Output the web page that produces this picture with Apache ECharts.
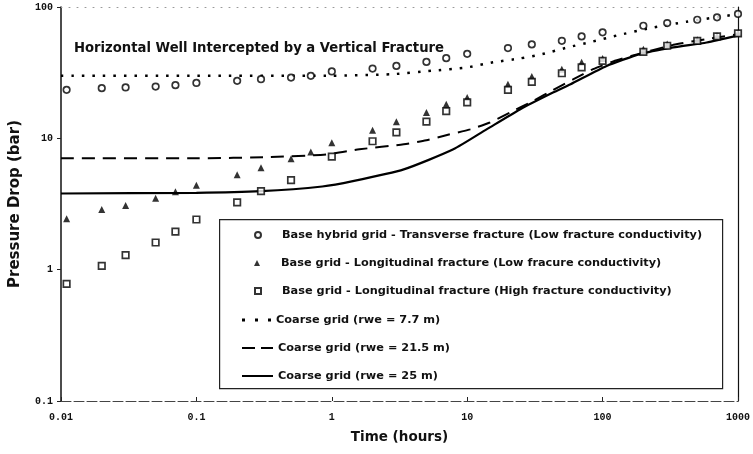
<!DOCTYPE html>
<html>
<head>
<meta charset="utf-8">
<script src="https://cdn.jsdelivr.net/npm/echarts@6/dist/echarts.min.js"></script>
<style>html,body{margin:0;padding:0;background:#fff}#c{width:753px;height:454px}</style>
</head>
<body>
<div id="c"></div>
<script>
// ---- data ----
const xTickLabels = ['0.01', '0.1', '1', '10', '100', '1000'];
const yTickLabels = ['0.1', '1', '10', '100'];

const times = [0.011, 0.02, 0.03, 0.05, 0.07, 0.1, 0.2, 0.3, 0.5, 0.7, 1, 2, 3, 5, 7, 10, 20, 30, 50, 70, 100, 200, 300, 500, 700, 1000];
const hybridTransverseLow = [23.4, 24.1, 24.4, 24.8, 25.4, 26.4, 27.4, 28.2, 29.0, 29.9, 32.3, 34.0, 35.6, 38.2, 40.8, 44.0, 48.7, 51.9, 55.3, 59.7, 64.1, 72.0, 75.5, 80.0, 83.4, 88.5];
const longitudinalLow = [2.44, 2.87, 3.08, 3.5, 3.92, 4.4, 5.29, 5.97, 7.0, 7.86, 9.27, 11.5, 13.4, 15.7, 18.2, 20.5, 25.8, 29.6, 33.6, 37.9, 40.6, 47.7, 52.2, 56.2, 60.4, 63.4];
const longitudinalHigh = [0.78, 1.07, 1.29, 1.61, 1.95, 2.41, 3.25, 3.96, 4.81, null, 7.25, 9.5, 11.1, 13.4, 16.1, 18.8, 23.4, 26.9, 31.3, 34.7, 38.9, 45.6, 50.7, 55.3, 59.7, 63.0];

const tCoarse77 = [0.01, 0.1, 1, 2.8, 5.5, 10, 15.5, 24.5, 36, 55, 81, 127, 224, 418, 775, 1000];
const vCoarse77 = [30, 30, 30, 30.8, 32.7, 34.7, 37.9, 40.6, 43.8, 49.2, 54, 60.6, 69, 77.3, 84.9, 88.5];

const tCoarse215 = [0.01, 0.1, 0.35, 0.92, 1.6, 3.4, 5, 7.1, 10.5, 14.7, 20.7, 30.8, 43, 61, 85, 120, 165, 333, 620, 1000];
const vCoarse215 = [7.05, 7.05, 7.2, 7.55, 8.25, 9.0, 9.66, 10.6, 11.7, 13.2, 15.7, 19.3, 23.3, 28.2, 33.6, 38.5, 42.5, 51.5, 57.5, 62];

const tCoarse25 = [0.01, 0.1, 0.3, 0.85, 1.43, 3.4, 7.9, 13.9, 24.5, 43, 58, 107, 189, 333, 587, 1000];
const vCoarse25 = [3.8, 3.85, 3.96, 4.3, 4.72, 5.8, 8.25, 11.7, 16.6, 22.3, 25.8, 35.6, 43.8, 49.2, 53.7, 60.5];

const names = [
  'Base hybrid grid - Transverse fracture (Low fracture conductivity)',
  'Base grid - Longitudinal fracture (Low fracure conductivity)',
  'Base grid - Longitudinal fracture (High fracture conductivity)',
  'Coarse grid (rwe = 7.7 m)',
  'Coarse grid (rwe = 21.5 m)',
  'Coarse grid (rwe = 25 m)'
];

// ---- build ----
function pairs(xs, ys) {
  const out = [];
  for (let i = 0; i < xs.length; i++) if (ys[i] != null) out.push([xs[i], ys[i]]);
  return out;
}
function logLabel(arr, base) {
  return function (v) {
    const i = Math.round(Math.log10(v)) - base;
    return arr[i] !== undefined ? arr[i] : '';
  };
}

const chart = echarts.init(document.getElementById('c'), null, { renderer: 'canvas' });
const black = '#000';
const FONT = 'DejaVu Sans';
const legendFont = { fontFamily: FONT, fontWeight: 'bold', fontSize: 11.3, color: '#111' };
const tickFont = { fontFamily: 'Liberation Mono', fontWeight: 'bold', fontSize: 10, color: '#111' };

const rowCenters = [235, 263, 291, 320, 348, 376];
const legendIcons = [
  { icon: 'circle', w: 6, h: 6 },
  { icon: 'triangle', w: 6, h: 6 },
  { icon: 'rect', w: 6, h: 6 },
  { icon: 'path://M0,0h3v3h-3zM13,0h3v3h-3zM26,0h3v3h-3z', w: 29, h: 3 },
  { icon: 'path://M0,0h13v2h-13zM19,0h12v2h-12z', w: 31, h: 2 },
  { icon: 'path://M0,0h31v2h-31z', w: 31, h: 2 }
];
const legends = names.map(function (n, i) {
  const ic = legendIcons[i];
  const isMarker = i < 3;
  return {
    data: [{ name: n, icon: ic.icon }],
    orient: 'vertical',
    left: isMarker ? 254 : 242,
    top: rowCenters[i] - 8,
    itemWidth: ic.w, itemHeight: ic.h,
    padding: 0,
    textStyle: Object.assign({}, legendFont, { padding: [0, 0, 0, isMarker ? 16 : 0], lineHeight: 16 }),
    selectedMode: false
  };
});

chart.setOption({
  animation: false,
  backgroundColor: '#fff',
  grid: { left: 61, right: 15, top: 7, bottom: 53, show: false },
  title: {
    text: 'Horizontal Well Intercepted by a Vertical Fracture',
    left: 69, top: 37,
    textStyle: { fontFamily: FONT, fontWeight: 'bold', fontSize: 13.2, color: '#111' }
  },
  graphic: [{
    type: 'rect', left: 219, top: 219, z: 0,
    shape: { width: 503, height: 169 },
    style: { fill: '#fff', stroke: '#222', lineWidth: 1.2 }
  }],
  legend: legends,
  xAxis: [{
    type: 'log', logBase: 10, min: 0.01, max: 1000,
    name: 'Time (hours)', nameLocation: 'middle', nameGap: 29,
    nameTextStyle: { fontFamily: FONT, fontWeight: 'bold', fontSize: 13.5, color: '#111' },
    axisLine: { lineStyle: { color: '#444', width: 1, type: [10, 3] } },
    axisTick: { show: true, inside: true, length: 4, lineStyle: { color: '#222' } },
    minorTick: { show: false },
    splitLine: { show: false },
    axisLabel: { margin: 11, formatter: logLabel(xTickLabels, -2), ...tickFont }
  }, {
    type: 'log', logBase: 10, min: 0.01, max: 1000, position: 'top',
    axisLine: { lineStyle: { color: '#999', width: 1, type: [1, 7] } },
    axisTick: { show: false }, axisLabel: { show: false }, splitLine: { show: false }
  }],
  yAxis: [{
    type: 'log', logBase: 10, min: 0.1, max: 100,
    name: 'Pressure Drop (bar)', nameLocation: 'middle', nameGap: 38,
    nameTextStyle: { fontFamily: FONT, fontWeight: 'bold', fontSize: 15, color: '#111' },
    axisLine: { lineStyle: { color: '#111', width: 1.5 } },
    axisTick: { show: true, inside: false, length: 4, lineStyle: { color: '#222' } },
    minorTick: { show: false },
    splitLine: { show: false },
    axisLabel: { margin: 8, formatter: logLabel(yTickLabels, -1), ...tickFont }
  }, {
    type: 'log', logBase: 10, min: 0.1, max: 100, position: 'right',
    axisLine: { lineStyle: { color: '#111', width: 1.2 } },
    axisTick: { show: false }, axisLabel: { show: false }, splitLine: { show: false }
  }],
  series: [
    {
      name: names[0], type: 'scatter', data: pairs(times, hybridTransverseLow),
      symbol: 'circle', symbolSize: 6.5, z: 5, color: '#fff',
      itemStyle: { color: '#fff', borderColor: black, borderWidth: 1.7 }
    },
    {
      name: names[1], type: 'scatter', data: pairs(times, longitudinalLow),
      symbol: 'triangle', symbolSize: 7, z: 5, color: black,
      itemStyle: { color: black }
    },
    {
      name: names[2], type: 'scatter', data: pairs(times, longitudinalHigh),
      symbol: 'rect', symbolSize: 6.5, z: 5, color: '#fff',
      itemStyle: { color: '#fff', borderColor: black, borderWidth: 1.7 }
    },
    {
      name: names[3], type: 'line', data: pairs(tCoarse77, vCoarse77),
      symbol: 'none', smooth: 0.2, z: 3, color: black,
      itemStyle: { color: black },
      lineStyle: { color: black, width: 2.5, type: [2.5, 8] }
    },
    {
      name: names[4], type: 'line', data: pairs(tCoarse215, vCoarse215),
      symbol: 'none', smooth: 0.2, z: 3, color: black,
      itemStyle: { color: black },
      lineStyle: { color: black, width: 2, type: [13, 8] }
    },
    {
      name: names[5], type: 'line', data: pairs(tCoarse25, vCoarse25),
      symbol: 'none', smooth: 0.2, z: 3, color: black,
      itemStyle: { color: black },
      lineStyle: { color: black, width: 2.2 }
    }
  ]
});
</script>
</body>
</html>
